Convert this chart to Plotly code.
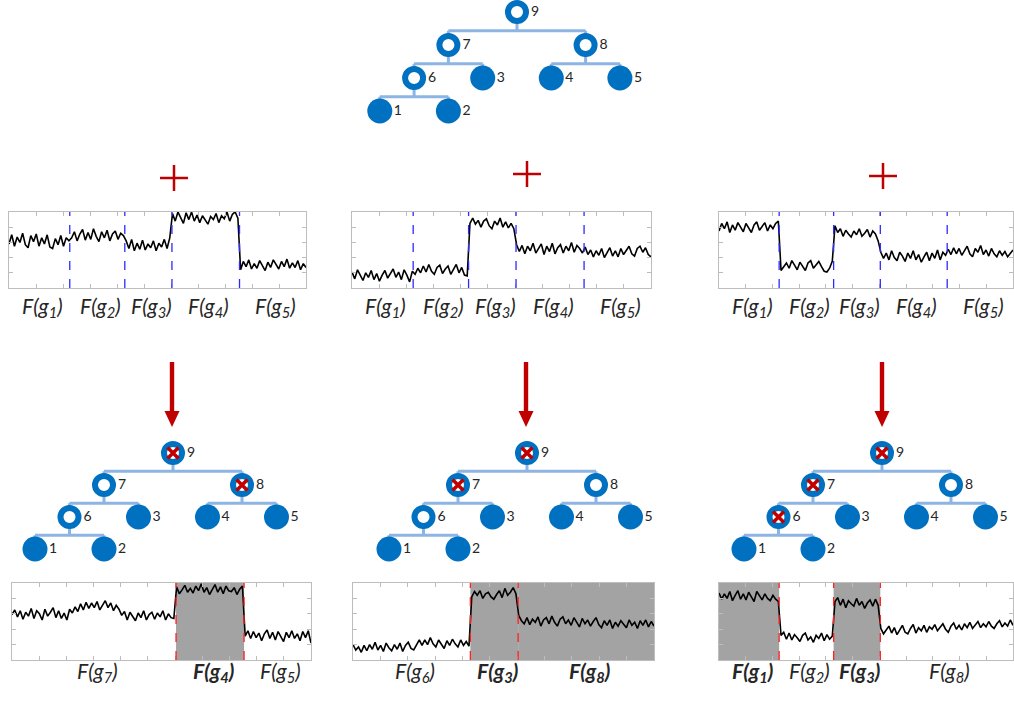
import plotly.graph_objects as go

W, H = 1014, 704

# ------------------------------------------------------------------ data
SIG_TOP_LEFT = (
    [0.58,0.70,0.55,0.67,0.60,0.72,0.57,0.53,0.69,0.61,0.71,0.55,0.66,0.58,0.70,0.54,0.52,0.65,0.57,0.69,0.55,0.66,0.62]
    + [0.66,0.74,0.62,0.71,0.77,0.63,0.73,0.64,0.78,0.68,0.61,0.74,0.66,0.76,0.62,0.71,0.75,0.64,0.72,0.69]
    + [0.62,0.52,0.64,0.49,0.59,0.51,0.63,0.50,0.58,0.53,0.62,0.49,0.59,0.54,0.64,0.52,0.66]
    + [0.98,0.88,1.00,0.92,0.85,0.99,0.90,1.00,0.88,0.96,0.86,0.95,0.89,0.84,0.94,0.90,0.98,0.86,0.95,0.91,1.00,0.88,0.97,1.00,0.92]
    + [0.24,0.35,0.28,0.37,0.25,0.32,0.26,0.36,0.29,0.23,0.34,0.27,0.37,0.30,0.25,0.35,0.28,0.38,0.26,0.33,0.27,0.36,0.24,0.32,0.27]
)
SIG_TOP_MID = (
    [0.21,0.12,0.24,0.16,0.10,0.20,0.14,0.23,0.11,0.19,0.09,0.17,0.23,0.13,0.20,0.25,0.14,0.21,0.11,0.24,0.17,0.08,0.22]
    + [0.18,0.26,0.20,0.29,0.21,0.31,0.22,0.18,0.27,0.30,0.19,0.25,0.29,0.18,0.24,0.31,0.20,0.27,0.17,0.16]
    + [0.85,0.92,0.84,0.89,0.80,0.88,0.91,0.82,0.78,0.88,0.83,0.92,0.80,0.87,0.79,0.85,0.78]
    + [0.57,0.48,0.56,0.45,0.55,0.49,0.59,0.46,0.53,0.58,0.44,0.55,0.48,0.59,0.45,0.53,0.57,0.46,0.55,0.49,0.60,0.47,0.56,0.52,0.46]
    + [0.54,0.44,0.50,0.41,0.49,0.43,0.52,0.40,0.47,0.53,0.42,0.49,0.41,0.52,0.44,0.50,0.55,0.45,0.42,0.52,0.55,0.47,0.53,0.44,0.41]
)
SIG_TOP_RIGHT = (
    [0.75,0.85,0.78,0.87,0.73,0.83,0.76,0.86,0.80,0.74,0.85,0.78,0.73,0.83,0.87,0.76,0.81,0.86,0.75,0.83,0.78,0.85,0.88]
    + [0.23,0.28,0.33,0.26,0.36,0.30,0.24,0.34,0.28,0.23,0.33,0.36,0.26,0.30,0.35,0.28,0.22,0.21,0.26,0.35]
    + [0.82,0.73,0.78,0.68,0.76,0.71,0.67,0.75,0.70,0.78,0.68,0.72,0.77,0.67,0.75,0.71,0.62]
    + [0.47,0.39,0.46,0.37,0.49,0.40,0.36,0.47,0.42,0.35,0.46,0.39,0.49,0.37,0.44,0.34,0.41,0.47,0.36,0.46,0.39,0.50,0.37,0.47,0.43]
    + [0.51,0.44,0.53,0.45,0.52,0.43,0.50,0.55,0.45,0.41,0.52,0.47,0.56,0.44,0.50,0.42,0.52,0.45,0.41,0.49,0.43,0.48,0.41,0.45,0.50]
)
SIG_BOT_LEFT = (
    [0.59,0.65,0.56,0.64,0.53,0.62,0.57,0.67,0.54,0.64,0.60,0.52,0.66,0.57,0.62,0.68,0.55,0.64,0.54,0.61,0.52,0.66]
    + [0.61,0.69,0.63,0.73,0.65,0.75,0.67,0.74,0.68,0.76,0.65,0.71,0.77,0.68,0.74,0.64,0.71]
    + [0.66,0.58,0.63,0.52,0.62,0.56,0.51,0.61,0.55,0.64,0.52,0.59,0.62,0.53,0.61,0.56,0.64,0.52,0.60,0.55,0.54]
    + [0.95,0.86,0.91,0.97,0.88,0.93,0.87,0.96,0.90,0.99,0.88,0.94,0.85,0.92,0.98,0.88,0.95,0.86,0.96,0.90,0.89,0.94,0.85,0.92,0.96]
    + [0.31,0.38,0.28,0.37,0.29,0.35,0.25,0.34,0.39,0.28,0.36,0.26,0.37,0.31,0.24,0.36,0.29,0.38,0.28,0.34,0.25,0.37,0.29,0.38,0.22]
)
SIG_BOT_MID = (
    [0.20,0.13,0.17,0.10,0.19,0.12,0.20,0.14,0.23,0.13,0.19,0.11,0.22,0.16,0.12,0.20,0.14,0.22,0.11,0.19,0.23,0.15,
     0.13,0.20,0.26,0.19,0.26,0.20,0.29,0.21,0.17,0.26,0.20,0.15,0.25,0.19,0.27,0.21,0.17,0.26,0.19,0.24,0.18]
    + [0.82,0.89,0.84,0.90,0.80,0.86,0.88,0.82,0.79,0.85,0.90,0.81,0.93,0.84,0.88,0.94,0.86]
    + [0.58,0.51,0.47,0.55,0.46,0.53,0.49,0.56,0.44,0.52,0.55,0.47,0.57,0.49,0.44,0.53,0.56,0.47,0.52,0.45,0.55,0.49,0.43,0.54,0.47,
       0.52,0.44,0.50,0.55,0.46,0.42,0.51,0.45,0.52,0.41,0.49,0.44,0.51,0.47,0.42,0.52,0.45,0.49,0.41,0.51,0.45,0.52,0.43,0.50,0.44]
)
SIG_BOT_RIGHT = (
    [0.87,0.79,0.86,0.80,0.89,0.77,0.84,0.90,0.79,0.86,0.78,0.88,0.82,0.76,0.89,0.84,0.78,0.86,0.80,0.77,0.84,0.79,0.76]
    + [0.32,0.36,0.27,0.35,0.26,0.33,0.29,0.24,0.32,0.35,0.26,0.30,0.23,0.32,0.28,0.35,0.25,0.33,0.27,0.31]
    + [0.76,0.81,0.71,0.79,0.68,0.77,0.73,0.70,0.80,0.71,0.76,0.67,0.74,0.78,0.70,0.79,0.71]
    + [0.41,0.34,0.39,0.44,0.35,0.42,0.33,0.39,0.45,0.36,0.34,0.41,0.46,0.35,0.42,0.38,0.45,0.36,0.43,0.40,0.46,0.38,0.43,0.47,0.40,
       0.36,0.44,0.48,0.40,0.45,0.39,0.47,0.42,0.49,0.41,0.46,0.50,0.42,0.47,0.43,0.50,0.44,0.41,0.47,0.51,0.43,0.48,0.44,0.52,0.45]
)

# segment breakpoints (sample index) and segment labels
BREAKS_TOP = [22.3, 42.5, 59.8, 84.6]
LABELS_TOP = ["1", "2", "3", "4", "5"]

BREAKS_BL = [59.8, 84.6]
LABELS_BL = ["7", "4", "5"]
SELECTED_BL = [False, True, False]

BREAKS_BM = [42.5, 59.8]
LABELS_BM = ["6", "3", "8"]
SELECTED_BM = [False, True, True]

BREAKS_BR = [22.3, 42.5, 59.8]
LABELS_BR = ["1", "2", "3", "8"]
SELECTED_BR = [True, False, True, False]

# binary tree
TREE_CHILDREN = {9: [7, 8], 7: [6, 3], 8: [4, 5], 6: [1, 2]}
TREE_NODES = [1, 2, 3, 4, 5, 6, 7, 8, 9]
CROSSED_TOP = []
CROSSED_BL = [9, 8]
CROSSED_BM = [9, 7]
CROSSED_BR = [9, 7, 6]

# ------------------------------------------------------------------ layout / style
FONT = "Lato, 'Open Sans', sans-serif"
BLUE = "#0070c0"
EDGE = "#8db4e2"
RED = "#c00000"
BOXC = "#bdbdbd"
LEAF_SLOT = {1: -4, 2: -2, 3: -1, 4: 1, 5: 3}

layout = dict(
    width=W, height=H, margin=dict(l=0, r=0, t=0, b=0),
    paper_bgcolor="white", plot_bgcolor="rgba(0,0,0,0)",
    showlegend=False, font=dict(family=FONT, color="#262626", size=14),
)
shapes, annotations = [], []
fig = go.Figure()


def axn(i, k):
    return f"{k}axis" if i == 1 else f"{k}axis{i}"


def ref(i, k):
    return k if i == 1 else f"{k}{i}"


def pyp(p):
    return 1 - p / H


# signal panels: (signal, breaks, labels, selected, dash colour, box px x0,x1,y0,y1, label y px)
PANELS = [
    (SIG_TOP_LEFT, BREAKS_TOP, LABELS_TOP, None, "#2b2bff", (9, 306, 212, 288), 307),
    (SIG_TOP_MID, BREAKS_TOP, LABELS_TOP, None, "#2b2bff", (352, 651, 212, 288), 307),
    (SIG_TOP_RIGHT, BREAKS_TOP, LABELS_TOP, None, "#2b2bff", (719, 1013, 212, 288), 307),
    (SIG_BOT_LEFT, BREAKS_BL, LABELS_BL, SELECTED_BL, "#ff2020", (12, 311, 583, 660), 688),
    (SIG_BOT_MID, BREAKS_BM, LABELS_BM, SELECTED_BM, "#ff2020", (353, 654, 583, 660), 688),
    (SIG_BOT_RIGHT, BREAKS_BR, LABELS_BR, SELECTED_BR, "#ff2020", (719, 1013, 583, 660), 688),
]

for i, (sig, brk, labs, sel, dcol, box, ly) in enumerate(PANELS, start=1):
    n = len(sig)
    xmax = n - 1
    x0, x1, y0, y1 = box
    common = dict(showline=True, mirror="ticks", linecolor=BOXC, linewidth=1,
                  ticks="inside", ticklen=4, tickcolor=BOXC, tickwidth=1,
                  showticklabels=False, showgrid=False, zeroline=False, fixedrange=True)
    layout[axn(i, "x")] = dict(domain=[x0 / W, x1 / W], range=[0, xmax],
                               tickmode="linear", tick0=0, dtick=xmax / 11,
                               anchor=ref(i, "y"), **common)
    layout[axn(i, "y")] = dict(domain=[pyp(y1), pyp(y0)], range=[0, 1],
                               tickmode="linear", tick0=0, dtick=0.2,
                               anchor=ref(i, "x"), **common)
    bounds = [0] + brk + [xmax]
    xr, yr = ref(i, "x"), ref(i, "y")
    for s in range(len(labs)):
        a, b = bounds[s], bounds[s + 1]
        chosen = bool(sel and sel[s])
        if chosen:
            shapes.append(dict(type="rect", xref=xr, yref=f"{yr} domain", x0=a, x1=b, y0=0, y1=1,
                               fillcolor="#a3a3a3", line=dict(width=0), layer="below"))
        txt = f"<i>F(g<sub>{labs[s]}</sub>)</i>"
        if chosen:
            txt = f"<b>{txt}</b>"
        annotations.append(dict(x=(a + b) / 2, xref=xr, y=pyp(ly), yref="paper", text=txt,
                                showarrow=False, xshift=3, font=dict(size=21, color="#262626", family=FONT)))
    for bx in brk:
        shapes.append(dict(type="line", xref=xr, yref=f"{yr} domain", x0=bx, x1=bx, y0=0, y1=1,
                           line=dict(color=dcol, width=1.3, dash="dash"), layer="above"))
    fig.add_trace(go.Scatter(x=list(range(n)), y=sig, mode="lines", xaxis=xr, yaxis=yr,
                             line=dict(color="black", width=1.6), hoverinfo="skip"))


# tree positions from the structure
def tree_pos():
    pos = {}

    def xof(nd):
        if nd in TREE_CHILDREN:
            return sum(xof(c) for c in TREE_CHILDREN[nd]) / len(TREE_CHILDREN[nd])
        return LEAF_SLOT[nd]

    def walk(nd, lvl):
        pos[nd] = (xof(nd), lvl)
        for c in TREE_CHILDREN.get(nd, []):
            walk(c, lvl + 1)

    walk(9, 0)
    return pos


POS = tree_pos()

TREES = [
    (CROSSED_TOP, (517, 12), (34.3, 33.0), (0, 135)),
    (CROSSED_BL, (173, 453), (34.5, 32.0), (428, 572)),
    (CROSSED_BM, (527, 453), (34.5, 32.0), (428, 572)),
    (CROSSED_BR, (882, 453), (34.5, 32.0), (428, 572)),
]

for k, (crossed, (rx, ry), (ux, uy), (yt, yb)) in enumerate(TREES, start=7):
    d0 = max(0, rx - 5.2 * ux)
    d1 = min(W, rx + 5.2 * ux)
    layout[axn(k, "x")] = dict(domain=[d0 / W, d1 / W], range=[(d0 - rx) / ux, (d1 - rx) / ux],
                               visible=False, fixedrange=True, anchor=ref(k, "y"))
    layout[axn(k, "y")] = dict(domain=[pyp(yb), pyp(yt)], range=[(yb - ry) / uy, (yt - ry) / uy],
                               visible=False, fixedrange=True, anchor=ref(k, "x"))
    xr, yr = ref(k, "x"), ref(k, "y")
    ex, ey = [], []
    for p, ch in TREE_CHILDREN.items():
        px_, pl = POS[p]
        bar = pl + 0.57
        ex += [px_, px_, None]
        ey += [pl, bar, None]
        ex += [POS[ch[0]][0], POS[ch[-1]][0], None]
        ey += [bar, bar, None]
        for c in ch:
            ex += [POS[c][0], POS[c][0], None]
            ey += [bar, POS[c][1], None]
    fig.add_trace(go.Scatter(x=ex, y=ey, mode="lines", xaxis=xr, yaxis=yr,
                             line=dict(color=EDGE, width=3), hoverinfo="skip", cliponaxis=False))
    leaves = [n for n in TREE_NODES if n not in TREE_CHILDREN]
    inner = [n for n in TREE_NODES if n in TREE_CHILDREN]
    fig.add_trace(go.Scatter(x=[POS[n][0] for n in leaves], y=[POS[n][1] for n in leaves],
                             mode="markers", xaxis=xr, yaxis=yr, cliponaxis=False, hoverinfo="skip",
                             marker=dict(size=25, color=BLUE, line=dict(width=0))))
    fig.add_trace(go.Scatter(x=[POS[n][0] for n in inner], y=[POS[n][1] for n in inner],
                             mode="markers", xaxis=xr, yaxis=yr, cliponaxis=False, hoverinfo="skip",
                             marker=dict(size=18, color="white", line=dict(width=6, color=BLUE))))
    if crossed:
        fig.add_trace(go.Scatter(x=[POS[n][0] for n in crossed], y=[POS[n][1] for n in crossed],
                                 mode="markers", xaxis=xr, yaxis=yr, cliponaxis=False, hoverinfo="skip",
                                 marker=dict(symbol="x-thin", size=11, color=RED,
                                             line=dict(width=3.5, color=RED))))
    fig.add_trace(go.Scatter(x=[POS[n][0] + 14 / ux for n in TREE_NODES],
                             y=[POS[n][1] for n in TREE_NODES],
                             text=[str(n) for n in TREE_NODES], mode="text", textposition="middle right",
                             xaxis=xr, yaxis=yr, cliponaxis=False, hoverinfo="skip",
                             textfont=dict(size=14, color="#262626", family=FONT)))

# plus signs and arrows (decoration, paper pixels)
PLUS_PX = [(174, 178), (527, 174), (883, 176)]
for cx, cy in PLUS_PX:
    shapes.append(dict(type="line", xref="paper", yref="paper", x0=(cx - 14) / W, x1=(cx + 14) / W,
                       y0=pyp(cy), y1=pyp(cy), line=dict(color=RED, width=2.5)))
    shapes.append(dict(type="line", xref="paper", yref="paper", x0=cx / W, x1=cx / W,
                       y0=pyp(cy - 13), y1=pyp(cy + 13), line=dict(color=RED, width=2.5)))

ARROW_X = [172, 526, 882]
for ax_ in ARROW_X:
    shapes.append(dict(type="rect", xref="paper", yref="paper", x0=(ax_ - 2.2) / W, x1=(ax_ + 2.2) / W,
                       y0=pyp(413), y1=pyp(362), fillcolor=RED, line=dict(width=0)))
    path = (f"M {(ax_ - 7.5) / W} {pyp(411)} L {(ax_ + 7.5) / W} {pyp(411)} "
            f"L {ax_ / W} {pyp(427)} Z")
    shapes.append(dict(type="path", xref="paper", yref="paper", path=path,
                       fillcolor=RED, line=dict(width=0)))

layout["shapes"] = shapes
layout["annotations"] = annotations
fig.update_layout(**layout)
fig.write_html("out.html")
